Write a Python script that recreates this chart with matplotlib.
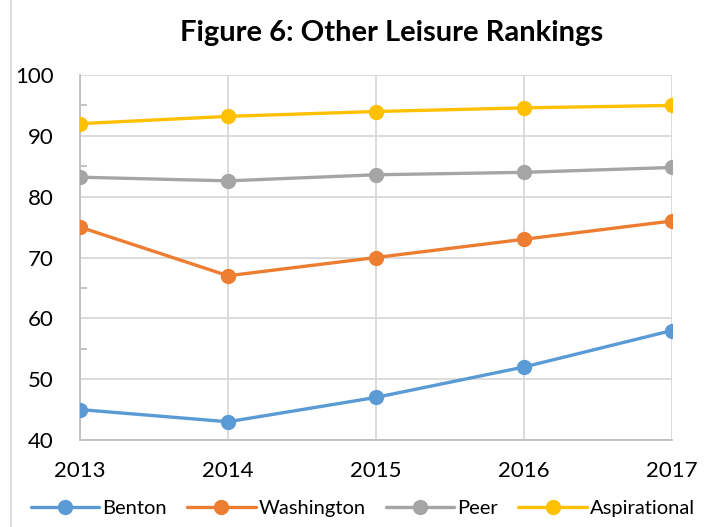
import matplotlib
matplotlib.use("Agg")
import matplotlib.pyplot as plt
from matplotlib.lines import Line2D
from matplotlib.ticker import MultipleLocator

years = ["2013", "2014", "2015", "2016", "2017"]
benton = [45, 43, 47, 52, 58]
washington = [75, 67, 70, 73, 76]
peer = [83.2, 82.6, 83.6, 84.0, 84.8]
aspirational = [92.0, 93.2, 94.0, 94.6, 95.0]

series = [
    ("Benton", benton, "#5B9BD5"),
    ("Washington", washington, "#ED7D31"),
    ("Peer", peer, "#A5A5A5"),
    ("Aspirational", aspirational, "#FFC000"),
]

plt.rcParams["font.family"] = ["Lato", "DejaVu Sans"]

fig = plt.figure(figsize=(7.06, 5.27), dpi=100)
ax = fig.add_axes([80 / 706, 1 - 440 / 527, 592 / 706, 365 / 527])

x = list(range(len(years)))
for label, values, color in series:
    ax.plot(x, values, color=color, linewidth=2.4, marker="o", markersize=10,
            label=label, solid_capstyle="round", zorder=3)

ax.set_xlim(0, len(years) - 1)
ax.set_ylim(40, 100)
ax.set_xticks(x)
ax.set_xticklabels(years)
ax.yaxis.set_major_locator(MultipleLocator(10))
ax.yaxis.set_minor_locator(MultipleLocator(5))
ax.grid(True, which="major", color="#D9D9D9", linewidth=1.3, zorder=0)

for side in ["top", "right"]:
    ax.spines[side].set_visible(False)
for side in ["left", "bottom"]:
    ax.spines[side].set_color("#BFBFBF")
    ax.spines[side].set_linewidth(1.3)

ax.tick_params(axis="y", which="major", length=0, pad=19, labelsize=16)
ax.tick_params(axis="y", which="minor", length=5, direction="in", color="#BFBFBF", width=1.3)
ax.tick_params(axis="x", length=0, pad=15, labelsize=16)

fig.text(392 / 706, 1 - 33 / 527, "Figure 6: Other Leisure Rankings",
         ha="center", va="center", fontsize=21, fontweight="bold")

fig.legend(loc="center", bbox_to_anchor=(363 / 706, 1 - 508 / 527), ncol=4,
           frameon=False, fontsize=14.5, handlelength=3.4, handletextpad=0.15,
           columnspacing=1.0, borderaxespad=0)

fig.add_artist(Line2D([11 / 706, 11 / 706], [0, 1], color="#D9D9D9", linewidth=1.3))

fig.savefig("out.png", dpi=100)
